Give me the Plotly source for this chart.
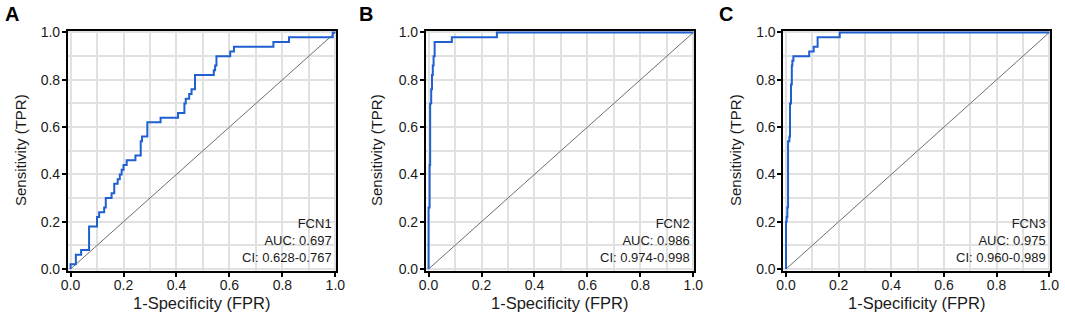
import plotly.graph_objects as go

# Step-curve corner points (fpr, tpr after each vertical jump)
fcn1_fpr = [0.0, 0.0, 0.02, 0.04, 0.07, 0.10, 0.108, 0.127, 0.133, 0.155, 0.165, 0.178, 0.186, 0.193,
            0.20, 0.212, 0.245, 0.265, 0.27, 0.29, 0.34, 0.406, 0.43, 0.435, 0.448, 0.457, 0.47,
            0.541, 0.546, 0.551, 0.603, 0.617, 0.766, 0.825, 0.99, 1.0]
fcn1_tpr = [0.0, 0.02, 0.06, 0.08, 0.18, 0.22, 0.24, 0.26, 0.30, 0.32, 0.36, 0.38, 0.40, 0.42,
            0.44, 0.46, 0.48, 0.54, 0.56, 0.62, 0.64, 0.66, 0.70, 0.72, 0.74, 0.76, 0.82,
            0.84, 0.86, 0.90, 0.92, 0.94, 0.96, 0.98, 1.0, 1.0]

fcn2_fpr = [0.0, 0.0, 0.004, 0.006, 0.010, 0.013, 0.016, 0.019, 0.023, 0.088, 0.258, 1.0]
fcn2_tpr = [0.0, 0.26, 0.44, 0.70, 0.76, 0.82, 0.86, 0.90, 0.96, 0.98, 1.0, 1.0]

fcn3_fpr = [0.0, 0.0, 0.0024, 0.005, 0.0077, 0.0128, 0.015, 0.019, 0.022, 0.024, 0.028, 0.034,
            0.088, 0.105, 0.12, 0.204, 1.0]
fcn3_tpr = [0.0, 0.20, 0.22, 0.26, 0.54, 0.56, 0.70, 0.78, 0.86, 0.88, 0.90, 0.90,
            0.92, 0.94, 0.98, 1.0, 1.0]

genes = ["FCN1", "FCN2", "FCN3"]
auc = ["0.697", "0.986", "0.975"]
ci = ["0.628-0.767", "0.974-0.998", "0.960-0.989"]
letters = ["A", "B", "C"]
tick_vals = [0.0, 0.2, 0.4, 0.6, 0.8, 1.0]
tick_text = ["0.0", "0.2", "0.4", "0.6", "0.8", "1.0"]
x_title = "1-Specificity (FPR)"
y_title = "Sensitivity (TPR)"

curves = [(fcn1_fpr, fcn1_tpr), (fcn2_fpr, fcn2_tpr), (fcn3_fpr, fcn3_tpr)]

W, H = 1065, 315
x_domains = [(67.9, 336.4), (425.9, 694.4), (783.4, 1050.3)]
y_top_px, y_bot_px = 30.6, 270.9
y_dom = ((H - y_bot_px) / H, (H - y_top_px) / H)
letter_x = [3, 357, 717]
ytitle_x = [20, 376, 735]
xtitle_y = 303

FONT = "Liberation Sans, Arial, sans-serif"
BLUE = "#1f5fcf"
GRID = "#e1e1e1"
TXT = "#1a1a1a"

fig = go.Figure()
layout = dict(
    width=W, height=H,
    margin=dict(l=0, r=0, t=0, b=0, autoexpand=False),
    paper_bgcolor="white", plot_bgcolor="white",
    showlegend=False,
    font=dict(family=FONT, color=TXT),
)
annotations = []
for i in range(3):
    xa = "x" if i == 0 else f"x{i+1}"
    ya = "y" if i == 0 else f"y{i+1}"
    fx, fy = curves[i]
    fig.add_trace(go.Scatter(x=[0, 1], y=[0, 1], mode="lines",
                             line=dict(color="#6e6e6e", width=1),
                             xaxis=xa, yaxis=ya, hoverinfo="skip"))
    fig.add_trace(go.Scatter(x=fx, y=fy, mode="lines", line_shape="hv",
                             line=dict(color=BLUE, width=2),
                             xaxis=xa, yaxis=ya))
    d0, d1 = x_domains[i]
    axis_common = dict(
        showline=True, linecolor="black", linewidth=2, mirror=True,
        ticks="outside", ticklen=4, tickwidth=1.5, tickcolor="black",
        tickvals=tick_vals, ticktext=tick_text,
        tickfont=dict(family=FONT, size=14, color=TXT),
        showgrid=True, gridcolor=GRID, gridwidth=1.5,
        minor=dict(dtick=0.1, tick0=0, showgrid=True, gridcolor=GRID, gridwidth=1.5, ticks=""),
        zeroline=False, automargin=False,
    )
    xkey = "xaxis" if i == 0 else f"xaxis{i+1}"
    ykey = "yaxis" if i == 0 else f"yaxis{i+1}"
    layout[xkey] = dict(axis_common, domain=[d0 / W, d1 / W], anchor=ya, range=[-0.01, 1.004],
                        ticklabelstandoff=-4)
    layout[ykey] = dict(axis_common, domain=list(y_dom), anchor=xa, range=[-0.008, 1.008],
                        ticklabelstandoff=-1)
    # axis titles
    annotations.append(dict(text=x_title, xref="paper", yref="paper",
                            x=(d0 + d1) / 2 / W, y=1 - xtitle_y / H, xanchor="center", yanchor="middle",
                            showarrow=False, font=dict(size=16.5, family=FONT, color=TXT)))
    annotations.append(dict(text=y_title, xref="paper", yref="paper", textangle=-90,
                            x=ytitle_x[i] / W, y=1 - 150 / H, xanchor="center", yanchor="middle",
                            showarrow=False, font=dict(size=15, family=FONT, color=TXT)))
    # panel letter
    annotations.append(dict(text=f"<b>{letters[i]}</b>", xref="paper", yref="paper",
                            x=letter_x[i] / W, y=1 - 1 / H, xanchor="left", yanchor="top",
                            showarrow=False, font=dict(size=20, family=FONT, color="black")))
    # legend text
    annotations.append(dict(text=f"{genes[i]}<br>AUC: {auc[i]}<br>CI: {ci[i]}",
                            xref=f"{xa} domain", yref=f"{ya} domain",
                            x=0.99, y=0.015, xanchor="right", yanchor="bottom", align="right",
                            showarrow=False, font=dict(size=13, family=FONT, color=TXT)))

layout["annotations"] = annotations
fig.update_layout(**layout)
fig.write_html("out.html", config={"displayModeBar": False},
               post_script="document.body.style.margin='0';document.body.style.overflow='hidden';")
